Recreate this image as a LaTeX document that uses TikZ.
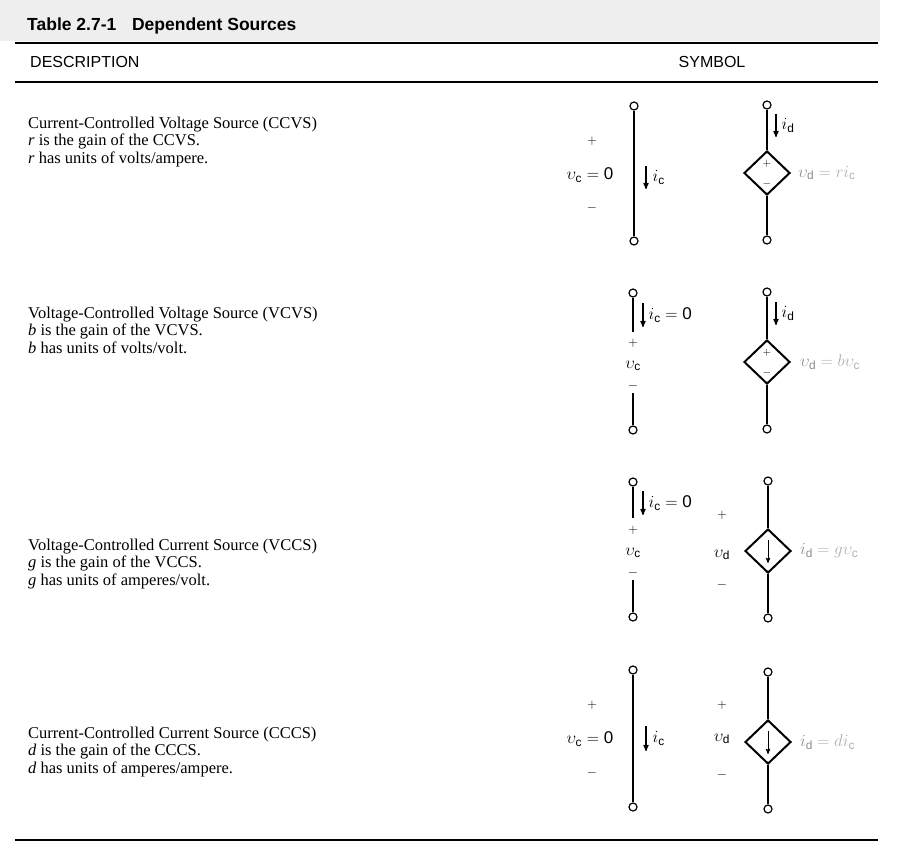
\RequirePackage{fix-cm}
\documentclass[tikz,border=0pt]{standalone}
\usepackage{fontspec}
\setmainfont{Liberation Serif}
\setsansfont{Liberation Sans}
\usepackage{amsmath,amssymb}
\usepackage{tikz}
\usetikzlibrary{arrows,shapes.geometric}
\definecolor{band}{RGB}{238, 238, 238}
\definecolor{faint}{RGB}{140, 140, 140}
\definecolor{fainter}{RGB}{175, 175, 175}
\newcommand{\sub}[1]{_{\textsf{#1}}}

\begin{document}
\begin{tikzpicture}
  [
    x=1pt, y=-1pt,
    rule/.style={line width=1.3pt},
    title/.style={anchor=base west, inner sep=0pt, font=\sffamily\bfseries\fontsize{17.5}{20}\selectfont},
    head/.style={inner sep=0pt, font=\sffamily\fontsize{16}{19}\selectfont},
    desc/.style={anchor=west, align=left, inner sep=0pt, font=\fontsize{16.5}{17.5}\selectfont},
    lbl/.style={inner sep=1pt, font=\fontsize{17}{20}\selectfont},
    pm/.style={inner sep=0pt, font=\fontsize{13}{15}\selectfont},
    sign/.style={inner sep=0pt, font=\fontsize{11}{13}\selectfont},
    wire/.style={line width=2pt},
    term/.style={circle, draw, line width=1.2pt, fill=white, inner sep=0pt, minimum size=8pt},
    source/.style={diamond, draw, line width=2pt, inner sep=0pt, minimum width=46pt, minimum height=44pt},
    current/.style={line width=1.2pt, ->, >=stealth'},
    inner/.style={current, line width=0.9pt}
  ]
  \useasboundingbox (0,0) rectangle (905,861);
  \fill[band] (0,0) rectangle (880,41);

  % heading
  \node[title] (tab) at (27,31) {Table 2.7-1\hspace{0.9em}Dependent Sources};
  \draw[rule] (15,43) -- (878,43);
  \node[head, anchor=west] (hdesc) at (30,62) {DESCRIPTION};
  \node[head] (hsym) at (712,62) {SYMBOL};
  \draw[rule] (15,82) -- (878,82);

  % CCVS
  \node[desc] (ccvs) at (28,142) {Current-Controlled Voltage Source (CCVS)\\ \textit{r} is the gain of the CCVS.\\ \textit{r} has units of volts/ampere.};
  \node[term] (ccvsA) at (634,106) {};
  \node[term] (ccvsB) at (634,241) {};
  \draw[wire] (ccvsA) -- (ccvsB);
  \node[pm] (ccvsP) at (592,141) {$+$};
  \node[lbl] (ccvsV) at (590,175) {$\upsilon\sub{c} = \textsf{0}$};
  \node[pm] (ccvsM) at (592,208) {$-$};
  \coordinate (ccvsI1) at (646,166);
  \coordinate (ccvsI2) at (646,189);
  \draw[current] (ccvsI1) -- node[lbl, right=5pt] {$i\sub{c}$} (ccvsI2);

  \node[term] (ccvsC) at (767,105) {};
  \node[source] (ccvsS) at (767,173) {};
  \node[term] (ccvsE) at (767,240) {};
  \draw[wire] (ccvsC) -- (ccvsS) -- (ccvsE);
  \node[sign] at ([yshift=9pt]ccvsS.center) {$+$};
  \node[sign] at ([yshift=-11pt]ccvsS.center) {$-$};
  \coordinate (ccvsJ1) at (776,114);
  \coordinate (ccvsJ2) at (776,137);
  \draw[current] (ccvsJ1) -- node[lbl, right=4pt] {$i\sub{d}$} (ccvsJ2);
  \node[lbl, anchor=west, faint] (ccvsG) at (797,173) {$\upsilon\sub{d}$ \color{fainter}$= ri\sub{c}$};

  % VCVS
  \node[desc] (vcvs) at (28,330) {Voltage-Controlled Voltage Source (VCVS)\\ \textit{b} is the gain of the VCVS.\\ \textit{b} has units of volts/volt.};
  \node[term] (vcvsA) at (633,293) {};
  \coordinate (vcvsA2) at (633,332);
  \coordinate (vcvsB2) at (633,393);
  \node[term] (vcvsB) at (633,430) {};
  \draw[wire] (vcvsA) -- (vcvsA2);
  \draw[wire] (vcvsB2) -- (vcvsB);
  \node[pm] (vcvsP) at (633,343) {$+$};
  \node[lbl] (vcvsV) at (633,366) {$\upsilon\sub{c}$};
  \node[pm] (vcvsM) at (633,386) {$-$};
  \coordinate (vcvsI1) at (643,303);
  \coordinate (vcvsI2) at (643,327);
  \draw[current] (vcvsI1) -- node[lbl, right=4pt] {$i\sub{c} = \textsf{0}$} (vcvsI2);

  \node[term] (vcvsC) at (767,292) {};
  \node[source] (vcvsS) at (767,362) {};
  \node[term] (vcvsE) at (767,429) {};
  \draw[wire] (vcvsC) -- (vcvsS) -- (vcvsE);
  \node[sign] at ([yshift=9pt]vcvsS.center) {$+$};
  \node[sign] at ([yshift=-11pt]vcvsS.center) {$-$};
  \coordinate (vcvsJ1) at (776,302);
  \coordinate (vcvsJ2) at (776,325);
  \draw[current] (vcvsJ1) -- node[lbl, right=4pt] {$i\sub{d}$} (vcvsJ2);
  \node[lbl, anchor=west, faint] (vcvsG) at (799,362) {$\upsilon\sub{d}$ \color{fainter}$= b\upsilon\sub{c}$};

  % VCCS
  \node[desc] (vccs) at (28,564) {Voltage-Controlled Current Source (VCCS)\\ \textit{g} is the gain of the VCCS.\\ \textit{g} has units of amperes/volt.};
  \node[term] (vccsA) at (633,482) {};
  \coordinate (vccsA2) at (633,518);
  \coordinate (vccsB2) at (633,580);
  \node[term] (vccsB) at (633,617) {};
  \draw[wire] (vccsA) -- (vccsA2);
  \draw[wire] (vccsB2) -- (vccsB);
  \node[pm] (vccsP) at (633,530) {$+$};
  \node[lbl] (vccsV) at (633,553) {$\upsilon\sub{c}$};
  \node[pm] (vccsM) at (633,573) {$-$};
  \coordinate (vccsI1) at (643,491);
  \coordinate (vccsI2) at (643,515);
  \draw[current] (vccsI1) -- node[lbl, right=4pt] {$i\sub{c} = \textsf{0}$} (vccsI2);

  \node[term] (vccsC) at (768,481) {};
  \node[source] (vccsS) at (768,551) {};
  \node[term] (vccsE) at (768,618) {};
  \draw[wire] (vccsC) -- (vccsS) -- (vccsE);
  \coordinate (vccsK1) at ([yshift=11pt]vccsS.center);
  \coordinate (vccsK2) at ([yshift=-12pt]vccsS.center);
  \draw[inner] (vccsK1) -- (vccsK2);
  \node[pm] (vccsP2) at (722,515) {$+$};
  \node[lbl] (vccsV2) at (722,555) {$\upsilon\sub{d}$};
  \node[pm] (vccsM2) at (722,585) {$-$};
  \node[lbl, anchor=west, faint] (vccsG) at (799,551) {$i\sub{d}$ \color{fainter}$= g\upsilon\sub{c}$};

  % CCCS
  \node[desc] (cccs) at (28,752) {Current-Controlled Current Source (CCCS)\\ \textit{d} is the gain of the CCCS.\\ \textit{d} has units of amperes/ampere.};
  \node[term] (cccsA) at (633,670) {};
  \node[term] (cccsB) at (633,807) {};
  \draw[wire] (cccsA) -- (cccsB);
  \node[pm] (cccsP) at (592,705) {$+$};
  \node[lbl] (cccsV) at (590,739) {$\upsilon\sub{c} = \textsf{0}$};
  \node[pm] (cccsM) at (592,773) {$-$};
  \coordinate (cccsI1) at (646,726);
  \coordinate (cccsI2) at (646,751);
  \draw[current] (cccsI1) -- node[lbl, right=5pt] {$i\sub{c}$} (cccsI2);

  \node[term] (cccsC) at (768,672) {};
  \node[source] (cccsS) at (768,742) {};
  \node[term] (cccsE) at (768,809) {};
  \draw[wire] (cccsC) -- (cccsS) -- (cccsE);
  \coordinate (cccsK1) at ([yshift=11pt]cccsS.center);
  \coordinate (cccsK2) at ([yshift=-12pt]cccsS.center);
  \draw[inner] (cccsK1) -- (cccsK2);
  \node[pm] (cccsP2) at (722,705) {$+$};
  \node[lbl] (cccsV2) at (722,739) {$\upsilon\sub{d}$};
  \node[pm] (cccsM2) at (722,775) {$-$};
  \node[lbl, anchor=west, faint] (cccsG) at (799,742) {$i\sub{d}$ \color{fainter}$= di\sub{c}$};

  \draw[rule] (15,840) -- (878,840);
\end{tikzpicture}
\end{document}
